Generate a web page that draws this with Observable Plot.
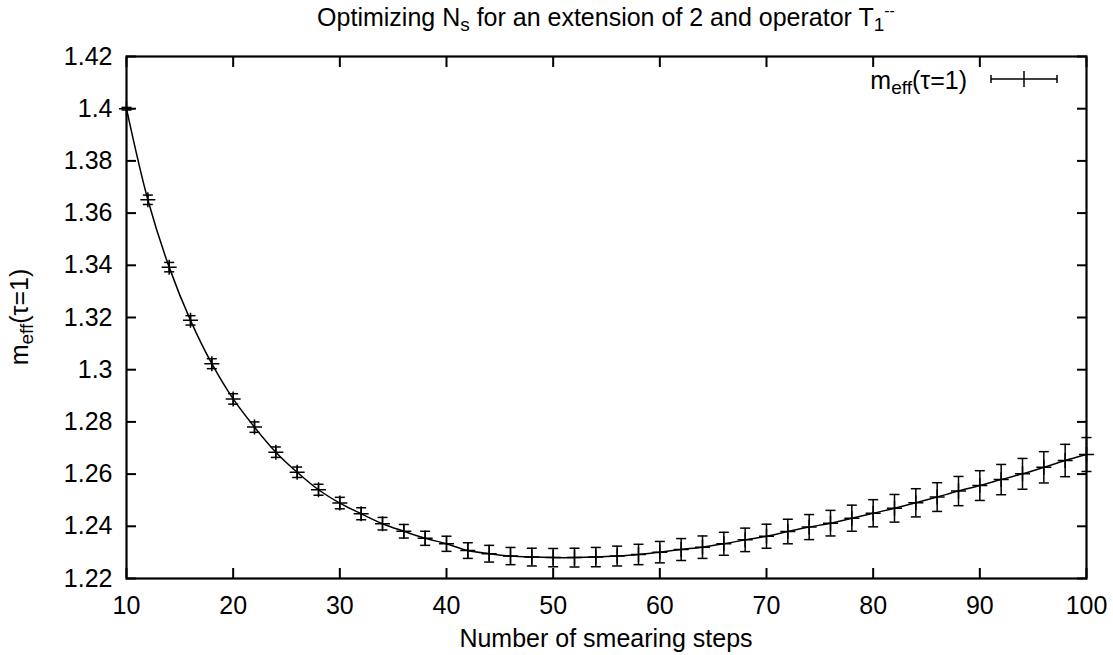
<!DOCTYPE html>
<html><head><meta charset="utf-8">
<script src="https://cdn.jsdelivr.net/npm/d3@7"></script>
<script src="https://cdn.jsdelivr.net/npm/@observablehq/plot@0.6"></script>
<style>body{margin:0;background:#fff} #chart{position:relative;width:1113px;height:655px}</style>
</head><body><div id="chart"></div>
<script>
const steps = [10,12,14,16,18,20,22,24,26,28,30,32,34,36,38,40,42,44,46,48,50,52,54,56,58,60,62,64,66,68,70,72,74,76,78,80,82,84,86,88,90,92,94,96,98,100];
const meff = [1.4000,1.3651,1.3393,1.3189,1.3023,1.2888,1.2780,1.2684,1.2607,1.2540,1.2489,1.2448,1.2410,1.2381,1.2354,1.2333,1.2307,1.2295,1.2286,1.2282,1.2280,1.2280,1.2282,1.2286,1.2292,1.2301,1.2311,1.2320,1.2333,1.2348,1.2362,1.2380,1.2397,1.2412,1.2431,1.2450,1.2469,1.2490,1.2512,1.2535,1.2556,1.2579,1.2601,1.2626,1.2652,1.2675];
const meffErr = [0.0005,0.0018,0.0018,0.0018,0.0019,0.0020,0.0020,0.0020,0.0020,0.0021,0.0022,0.0023,0.0024,0.0026,0.0027,0.0029,0.0030,0.0032,0.0033,0.0034,0.0035,0.0036,0.0037,0.0038,0.0039,0.0041,0.0042,0.0043,0.0044,0.0045,0.0046,0.0047,0.0048,0.0049,0.0050,0.0052,0.0053,0.0054,0.0055,0.0056,0.0057,0.0058,0.0059,0.0060,0.0062,0.0065];
const xTicks = [10,20,30,40,50,60,70,80,90,100];
const yTicks = [1.22,1.24,1.26,1.28,1.30,1.32,1.34,1.36,1.38,1.40,1.42];
const xLabel = "Number of smearing steps";

const data = steps.map((s, i) => ({x: s, y: meff[i], e: meffErr[i]}));

const capSymbol = {draw(ctx, size) { const r = Math.sqrt(size / Math.PI); ctx.moveTo(-r, 0); ctx.lineTo(r, 0); }};
const plusSymbol = {draw(ctx, size) { const r = Math.sqrt(size / Math.PI); ctx.moveTo(-r, 0); ctx.lineTo(r, 0); ctx.moveTo(0, -r); ctx.lineTo(0, r); }};

const W = 1113, H = 655;
const chart = Plot.plot({
  width: W, height: H,
  marginLeft: 126, marginRight: 27, marginTop: 56, marginBottom: 77,
  style: {fontFamily: "'Liberation Sans', Arial, sans-serif", fontSize: "25px", background: "white", color: "black"},
  x: {domain: [10, 100], nice: false},
  y: {domain: [1.22, 1.42], nice: false},
  marks: [
    Plot.line(data, {x: "x", y: "y", curve: "catmull-rom", stroke: "black", strokeWidth: 1.5}),
    Plot.ruleX(data, {x: "x", y1: d => d.y - d.e, y2: d => d.y + d.e, stroke: "black", strokeWidth: 1.5}),
    Plot.dot(data, {x: "x", y: d => d.y - d.e, symbol: capSymbol, r: 5, fill: "none", stroke: "black", strokeWidth: 1.5}),
    Plot.dot(data, {x: "x", y: d => d.y + d.e, symbol: capSymbol, r: 5, fill: "none", stroke: "black", strokeWidth: 1.5}),
    Plot.dot(data, {x: "x", y: "y", symbol: plusSymbol, r: 7.5, fill: "none", stroke: "black", strokeWidth: 1.5}),
    Plot.axisX(xTicks, {anchor: "bottom", tickSize: -10, fill: "none", strokeWidth: 2}),
    Plot.axisX(xTicks, {anchor: "top", tickSize: -10, fill: "none", strokeWidth: 2}),
    Plot.axisY(yTicks, {anchor: "left", tickSize: -10, fill: "none", strokeWidth: 2}),
    Plot.axisY(yTicks, {anchor: "right", tickSize: -10, fill: "none", strokeWidth: 2}),
    Plot.axisX(xTicks, {anchor: "bottom", tickSize: 0, tickPadding: 18, stroke: "none", label: null, tickFormat: d => String(d)}),
    Plot.axisY(yTicks, {anchor: "left", tickSize: 0, tickPadding: 14, stroke: "none", label: null, tickFormat: d => String(+d.toFixed(2))}),
    Plot.frame({stroke: "black", strokeWidth: 2.2})
  ]
});
document.getElementById("chart").appendChild(chart);

const svg = d3.select(chart);
const F = "'Liberation Sans', Arial, sans-serif";
// Title
const t = svg.append("text").attr("x", 606).attr("y", 26).attr("text-anchor", "middle")
  .attr("font-family", F).attr("font-size", 25).attr("fill", "black");
t.append("tspan").text("Optimizing N");
t.append("tspan").attr("font-size", 19).attr("dy", 5).text("s");
t.append("tspan").attr("dy", -5).text(" for an extension of 2 and operator T");
t.append("tspan").attr("font-size", 19).attr("dy", 5).text("1");
t.append("tspan").attr("font-size", 16).attr("dy", -15).text("--");
// X label
svg.append("text").attr("x", 606).attr("y", 647).attr("text-anchor", "middle")
  .attr("font-family", F).attr("font-size", 25).attr("fill", "black").text(xLabel);
// Y label
const yl = svg.append("text").attr("transform", "translate(28,317) rotate(-90)").attr("text-anchor", "middle")
  .attr("font-family", F).attr("font-size", 25).attr("fill", "black");
yl.append("tspan").text("m");
yl.append("tspan").attr("font-size", 19).attr("dy", 5).text("eff");
yl.append("tspan").attr("dy", -5).text("(τ=1)");
// Legend
const lg = svg.append("text").attr("x", 967).attr("y", 89).attr("text-anchor", "end")
  .attr("font-family", F).attr("font-size", 25).attr("fill", "black");
lg.append("tspan").text("m");
lg.append("tspan").attr("font-size", 19).attr("dy", 5).text("eff");
lg.append("tspan").attr("dy", -5).text("(τ=1)");
const ly = 79;
const g = svg.append("g").attr("stroke", "black").attr("stroke-width", 1.5);
g.append("line").attr("x1", 991).attr("x2", 1057).attr("y1", ly).attr("y2", ly);
g.append("line").attr("x1", 991).attr("x2", 991).attr("y1", ly - 4).attr("y2", ly + 4);
g.append("line").attr("x1", 1057).attr("x2", 1057).attr("y1", ly - 4).attr("y2", ly + 4);
g.append("line").attr("x1", 1024).attr("x2", 1024).attr("y1", ly - 8).attr("y2", ly + 8);
</script></body></html>
